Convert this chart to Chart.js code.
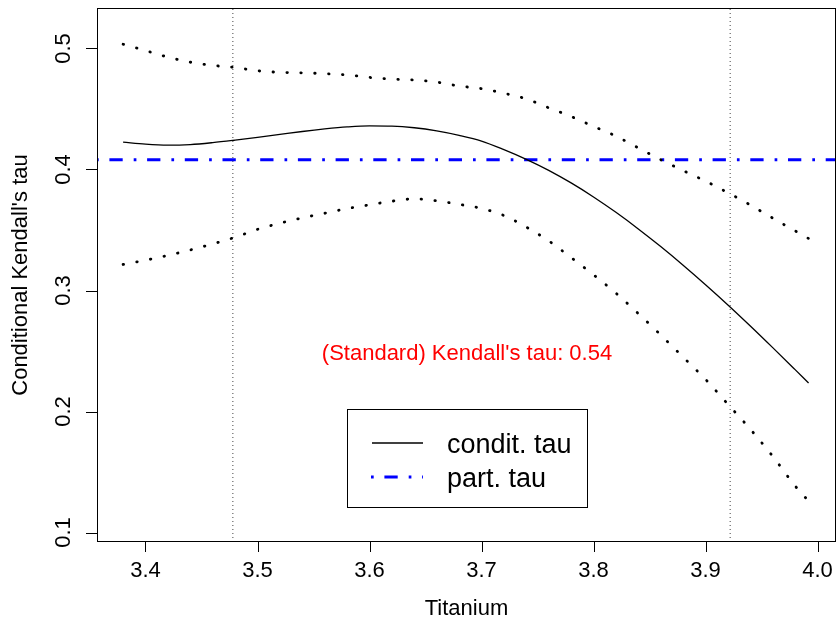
<!DOCTYPE html>
<html>
<head>
<meta charset="utf-8">
<script src="https://cdn.jsdelivr.net/npm/chart.js@4.4.1/dist/chart.umd.min.js"></script>
<style>
  html, body { margin: 0; padding: 0; background: #fff; }
</style>
</head>
<body>
<canvas id="tauChart" width="837" height="628"></canvas>
<script>
// values
const titanium = [3.38, 3.40, 3.42, 3.44, 3.46, 3.48, 3.50, 3.52, 3.54, 3.56, 3.58, 3.60, 3.62, 3.64, 3.66, 3.68,
                  3.70, 3.72, 3.74, 3.76, 3.78, 3.80, 3.82, 3.84, 3.86, 3.88, 3.90, 3.92, 3.94, 3.96, 3.98, 3.992];
const conditTau = [0.4226, 0.4209, 0.4201, 0.4206, 0.4222, 0.4243, 0.4266, 0.4290, 0.4314, 0.4335, 0.4352, 0.4361,
                   0.4359, 0.4345, 0.4319, 0.4282, 0.4235, 0.4164, 0.4084, 0.3993, 0.3889, 0.3773, 0.3646, 0.3509,
                   0.3363, 0.3209, 0.3048, 0.2881, 0.2707, 0.2528, 0.2346, 0.2236];
const upperBand = [0.5035, 0.4983, 0.4929, 0.4887, 0.4860, 0.4843, 0.4816, 0.4803, 0.4799, 0.4792, 0.4782, 0.4761,
                   0.4747, 0.4740, 0.4722, 0.4690, 0.4668, 0.4630, 0.4583, 0.4510, 0.4438, 0.4356, 0.4276, 0.4178,
                   0.4081, 0.3991, 0.3904, 0.3808, 0.3707, 0.3598, 0.3493, 0.3430];
const lowerBand = [0.3215, 0.3250, 0.3290, 0.3335, 0.3385, 0.3440, 0.3505, 0.3556, 0.3600, 0.3638, 0.3677, 0.3708,
                   0.3738, 0.3757, 0.3741, 0.3712, 0.3678, 0.3620, 0.3524, 0.3410, 0.3272, 0.3130, 0.2978, 0.2809,
                   0.2633, 0.2449, 0.2266, 0.2060, 0.1854, 0.1630, 0.1385, 0.1260];
const partTau = 0.408;
const quantileMarks = [3.478, 3.922];
const standardTau = 0.54;

const xTicks = [3.4, 3.5, 3.6, 3.7, 3.8, 3.9, 4.0];
const yTicks = [0.1, 0.2, 0.3, 0.4, 0.5];
const xRange = [3.3567, 4.0165];
const yRange = [0.09215, 0.53347];

const FONT = '"Liberation Sans", Arial, Helvetica, sans-serif';
const BLUE_DASH = [13.3, 11, 2.7, 10.7];

const toPoints = (ys) => titanium.map((x, i) => ({ x: x, y: ys[i] }));

// box, axes, labels, note and legend in R base-graphics style
const rDecor = {
    id: 'rDecor',
    afterDraw(chart) {
        const { ctx, chartArea: a, scales: { x, y } } = chart;
        ctx.save();

        ctx.strokeStyle = '#000';
        ctx.lineWidth = 1;
        ctx.strokeRect(a.left + 0.5, a.top + 0.5, a.right - a.left - 1, a.bottom - a.top - 1);

        ctx.beginPath();
        xTicks.forEach(v => {
            const px = Math.round(x.getPixelForValue(v)) + 0.5;
            ctx.moveTo(px, a.bottom - 1);
            ctx.lineTo(px, a.bottom + 10);
        });
        yTicks.forEach(v => {
            const py = Math.round(y.getPixelForValue(v)) + 0.5;
            ctx.moveTo(a.left, py);
            ctx.lineTo(a.left - 11, py);
        });
        ctx.stroke();

        ctx.fillStyle = '#000';
        ctx.font = '22px ' + FONT;
        ctx.textBaseline = 'alphabetic';
        ctx.textAlign = 'center';
        xTicks.forEach(v => {
            ctx.fillText(v.toFixed(1), x.getPixelForValue(v), 577);
        });
        yTicks.forEach(v => {
            ctx.save();
            ctx.translate(70, y.getPixelForValue(v));
            ctx.rotate(-Math.PI / 2);
            ctx.fillText(v.toFixed(1), 0, 0);
            ctx.restore();
        });

        ctx.fillText('Titanium', (a.left + a.right) / 2, 615);
        ctx.save();
        ctx.translate(27, (a.top + a.bottom) / 2);
        ctx.rotate(-Math.PI / 2);
        ctx.fillText("Conditional Kendall's tau", 0, 0);
        ctx.restore();

        ctx.fillStyle = '#ff0000';
        ctx.fillText("(Standard) Kendall's tau: " + standardTau.toFixed(2), 467, 360);

        // legend
        ctx.fillStyle = '#fff';
        ctx.fillRect(348, 410, 239, 97);
        ctx.strokeStyle = '#000';
        ctx.lineWidth = 1;
        ctx.strokeRect(347.5, 409.5, 240, 98);

        ctx.beginPath();
        ctx.lineWidth = 1.3;
        ctx.moveTo(372, 443);
        ctx.lineTo(423, 443);
        ctx.stroke();

        ctx.beginPath();
        ctx.strokeStyle = '#0000ff';
        ctx.lineWidth = 3;
        ctx.setLineDash(BLUE_DASH);
        ctx.lineDashOffset = 24.3;
        ctx.moveTo(371, 477);
        ctx.lineTo(423, 477);
        ctx.stroke();
        ctx.setLineDash([]);

        ctx.fillStyle = '#000';
        ctx.textAlign = 'left';
        ctx.font = '27px ' + FONT;
        ctx.fillText('condit. tau', 447, 453);
        ctx.fillText('part. tau', 447, 487);

        ctx.restore();
    }
};

new Chart(document.getElementById('tauChart'), {
    type: 'line',
    data: {
        datasets: [
            {
                label: 'condit. tau',
                data: toPoints(conditTau),
                borderColor: '#000',
                borderWidth: 1.3,
                pointRadius: 0,
                cubicInterpolationMode: 'monotone'
            },
            {
                label: 'upper',
                data: toPoints(upperBand),
                borderColor: '#000',
                borderWidth: 2.8,
                borderDash: [0.5, 13.4],
                borderCapStyle: 'round',
                pointRadius: 0,
                cubicInterpolationMode: 'monotone'
            },
            {
                label: 'lower',
                data: toPoints(lowerBand),
                borderColor: '#000',
                borderWidth: 2.8,
                borderDash: [0.5, 13.4],
                borderCapStyle: 'round',
                pointRadius: 0,
                cubicInterpolationMode: 'monotone'
            },
            {
                label: 'part. tau',
                data: [{ x: xRange[0], y: partTau }, { x: xRange[1], y: partTau }],
                borderColor: '#0000ff',
                borderWidth: 3,
                borderDash: BLUE_DASH,
                borderDashOffset: 25.3,
                pointRadius: 0
            },
            ...quantileMarks.map(q => ({
                label: 'mark ' + q,
                data: [{ x: q, y: yRange[0] }, { x: q, y: yRange[1] }],
                borderColor: '#444',
                borderWidth: 1,
                borderDash: [1, 3],
                pointRadius: 0
            }))
        ]
    },
    options: {
        responsive: false,
        animation: false,
        layout: {
            padding: { left: 97, top: 8, right: 1, bottom: 86 }
        },
        scales: {
            x: { type: 'linear', display: false, min: xRange[0], max: xRange[1] },
            y: { type: 'linear', display: false, min: yRange[0], max: yRange[1] }
        },
        plugins: {
            legend: { display: false },
            tooltip: { enabled: false }
        }
    },
    plugins: [rDecor]
});
</script>
</body>
</html>
